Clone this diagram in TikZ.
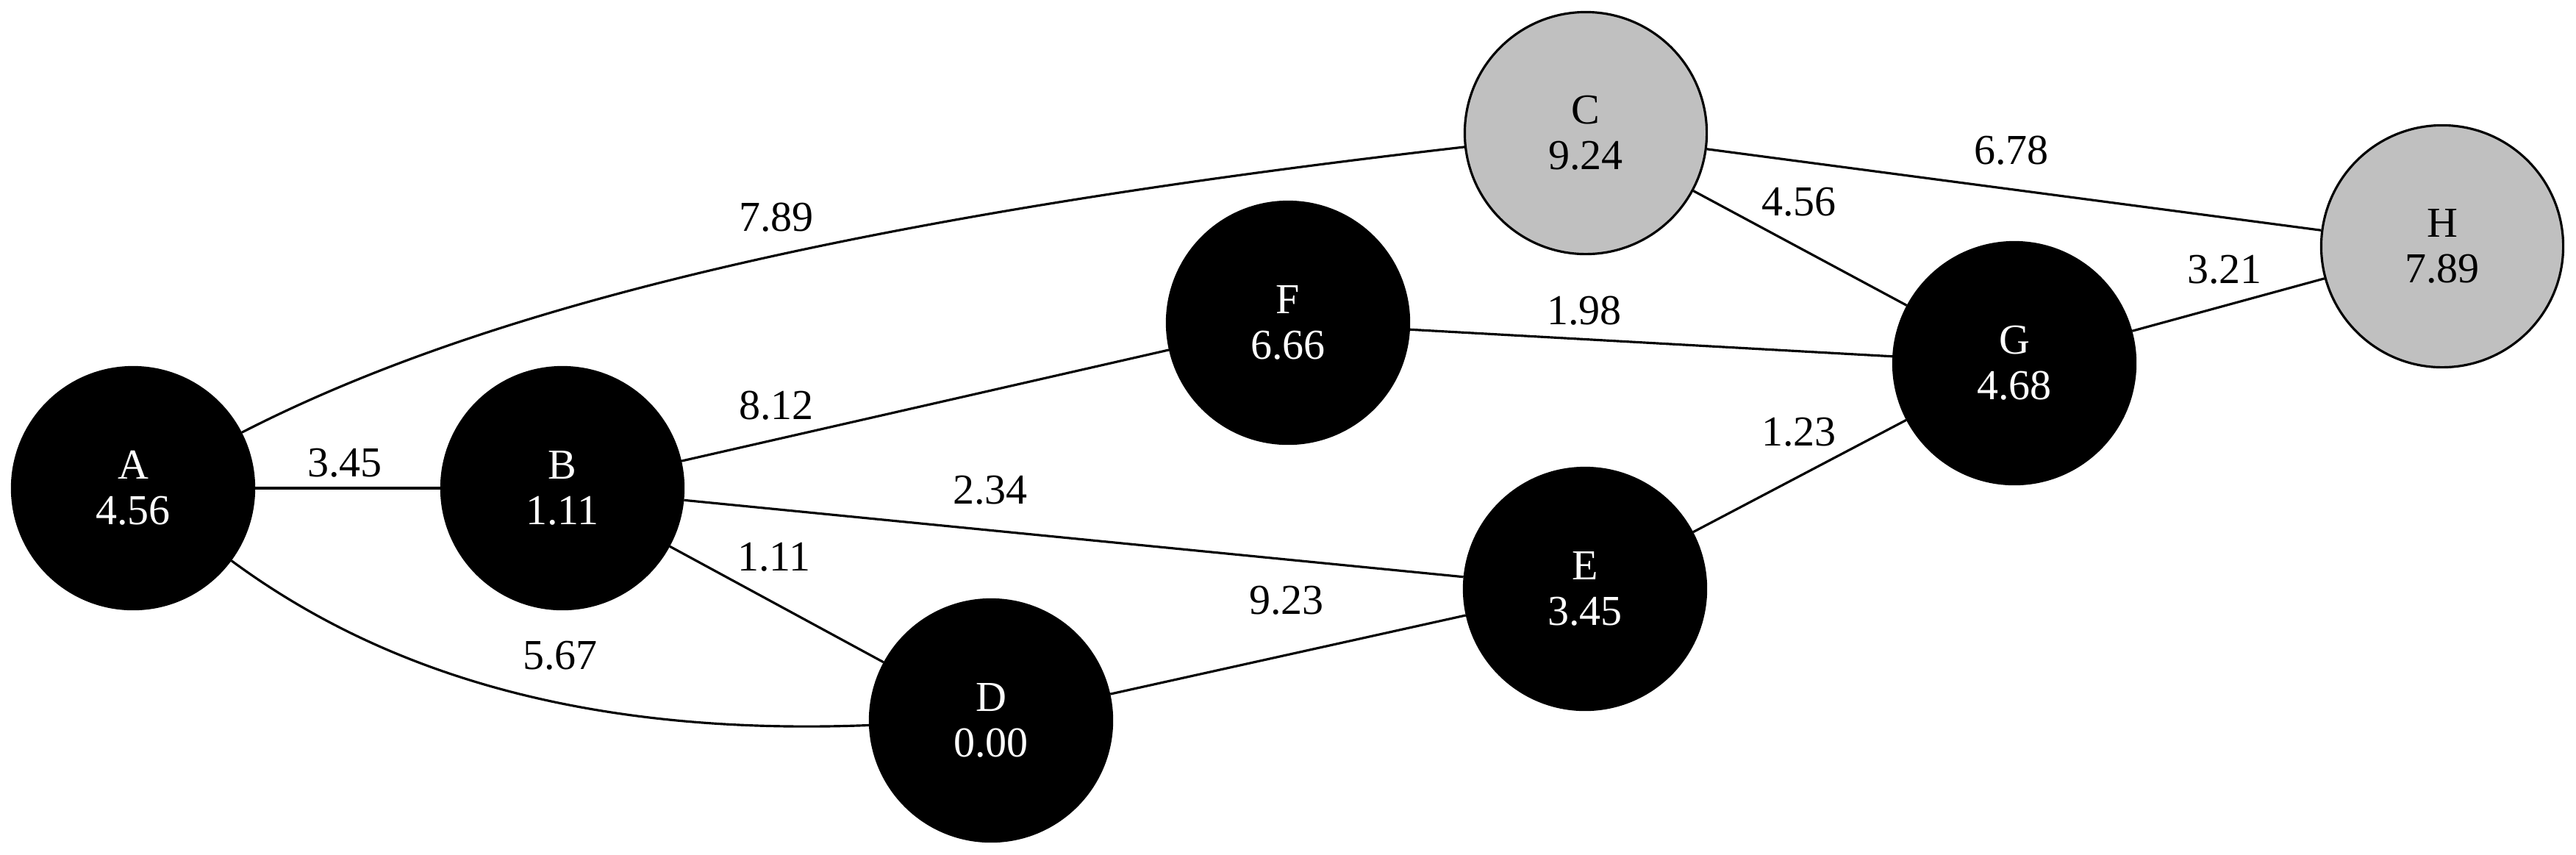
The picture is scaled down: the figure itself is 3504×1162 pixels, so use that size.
\documentclass[tikz,border=0pt]{standalone}
\usepackage{fontspec}
\setmainfont{Liberation Serif}
\definecolor{nodegray}{HTML}{C0C0C0}
\begin{document}
\begin{tikzpicture}[x=0.01cm, y=-0.01cm,
  every node/.style={font=\fontsize{16.5pt}{17.6pt}\selectfont},
  vtx/.style={circle, draw=black, line width=0.9pt, minimum size=3.29cm, inner sep=0pt, align=center},
  blk/.style={vtx, fill=black, text=white},
  gry/.style={vtx, fill=nodegray, text=black},
  conn/.style={draw=black, line width=0.9pt},
  lbl/.style={inner sep=0pt, text=black}]
\useasboundingbox (0,0) rectangle (3504,1162);

\node[blk] (A) at (181,664) {A\\4.56};
\node[blk] (B) at (765,664) {B\\1.11};
\node[gry] (C) at (2157,181) {C\\9.24};
\node[blk] (D) at (1348,980) {D\\0.00};
\node[blk] (E) at (2156,801) {E\\3.45};
\node[blk] (F) at (1752,439) {F\\6.66};
\node[blk] (G) at (2740,494) {G\\4.68};
\node[gry] (H) at (3322,335) {H\\7.89};

\draw[conn] (A) -- (B);
\draw[conn] (A) .. controls (628,435) and (1092,303) .. (C);
\draw[conn] (A) .. controls (512,908) and (782,1002) .. (D);
\draw[conn] (B) -- (F);
\draw[conn] (B) -- (E);
\draw[conn] (B) -- (D);
\draw[conn] (F) -- (G);
\draw[conn] (C) -- (G);
\draw[conn] (C) -- (H);
\draw[conn] (G) -- (H);
\draw[conn] (E) -- (G);
\draw[conn] (D) -- (E);

\node[lbl] (lAB) at (469,630) {3.45};
\node[lbl] (lAC) at (1056,296) {7.89};
\node[lbl] (lAD) at (762,892) {5.67};
\node[lbl] (lBF) at (1056,552) {8.12};
\node[lbl] (lBE) at (1347,667) {2.34};
\node[lbl] (lBD) at (1053,758) {1.11};
\node[lbl] (lFG) at (2155,423) {1.98};
\node[lbl] (lCG) at (2447,275) {4.56};
\node[lbl] (lCH) at (2736,205) {6.78};
\node[lbl] (lGH) at (3026,367) {3.21};
\node[lbl] (lEG) at (2447,588) {1.23};
\node[lbl] (lDE) at (1750,817) {9.23};
\end{tikzpicture}
\end{document}
